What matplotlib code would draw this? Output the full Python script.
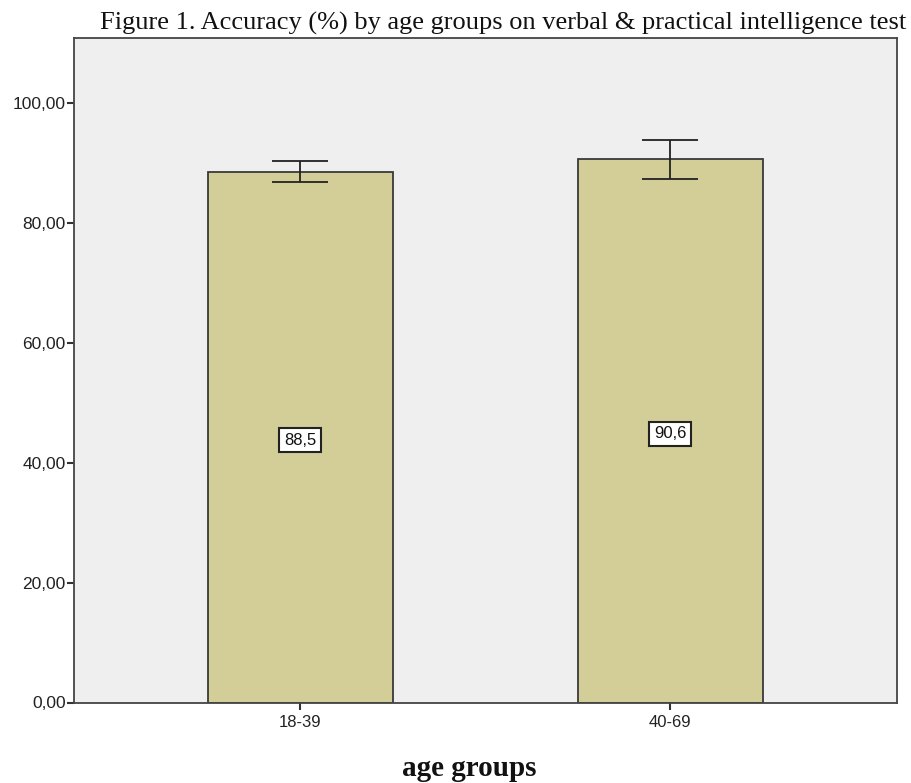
import matplotlib
matplotlib.use("Agg")
import matplotlib.pyplot as plt
import numpy as np

categories = ["18-39", "40-69"]
means = [88.5, 90.6]
err_low = [86.8, 87.3]
err_high = [90.3, 93.9]
mean_labels = ["88,5", "90,6"]
yticks = [0, 20, 40, 60, 80, 100]
ytick_labels = ["0,00", "20,00", "40,00", "60,00", "80,00", "100,00"]

W, H = 911, 783
fig = plt.figure(figsize=(W / 100, H / 100), dpi=100)
ax = fig.add_axes([74 / W, (H - 702.5) / H, (896.7 - 74) / W, (702.5 - 37.7) / H])
ax.set_facecolor("#efefef")

x = np.arange(len(categories))
ax.bar(x, means, width=0.5, color="#d3ce97", edgecolor="#3a3a3a", linewidth=1.3, zorder=2)
yerr = np.array([np.array(means) - np.array(err_low), np.array(err_high) - np.array(means)])
ax.errorbar(x, means, yerr=yerr, fmt="none", ecolor="#222222", elinewidth=1.3,
            capsize=20.5, capthick=1.3, zorder=3)

for xi, m, lab in zip(x, means, mean_labels):
    ax.text(xi, m / 2 - 0.5, lab, ha="center", va="center", fontsize=12,
            family="Liberation Sans", color="#111111", zorder=4,
            bbox=dict(boxstyle="square,pad=0.28", facecolor="white",
                      edgecolor="#222222", linewidth=1.5))

ax.set_xlim(-0.611, 1.612)
ax.set_ylim(0, 110.9)
ax.set_xticks(x)
ax.set_xticklabels(categories, family="Liberation Sans", fontsize=12)
ax.set_yticks(yticks)
ax.set_yticklabels(ytick_labels, family="Liberation Sans", fontsize=12.5)
ax.tick_params(axis="both", direction="out", length=5, width=1.5, color="#333333",
               labelcolor="#222222")
ax.tick_params(axis="y", pad=1)
ax.tick_params(axis="x", pad=4)
for s in ax.spines.values():
    s.set_color("#444444")
    s.set_linewidth(1.3)

fig.text(503 / W, 1 - 23 / H, "Figure 1. Accuracy (%) by age groups on verbal & practical intelligence test",
         ha="center", va="center", family="Liberation Serif", fontsize=19, color="#111111")
fig.text(469 / W, 1 - 769 / H, "age groups", ha="center", va="center",
         family="Liberation Serif", fontweight="bold", fontsize=21, color="#111111")

fig.savefig("out.png", dpi=100, facecolor="white")
